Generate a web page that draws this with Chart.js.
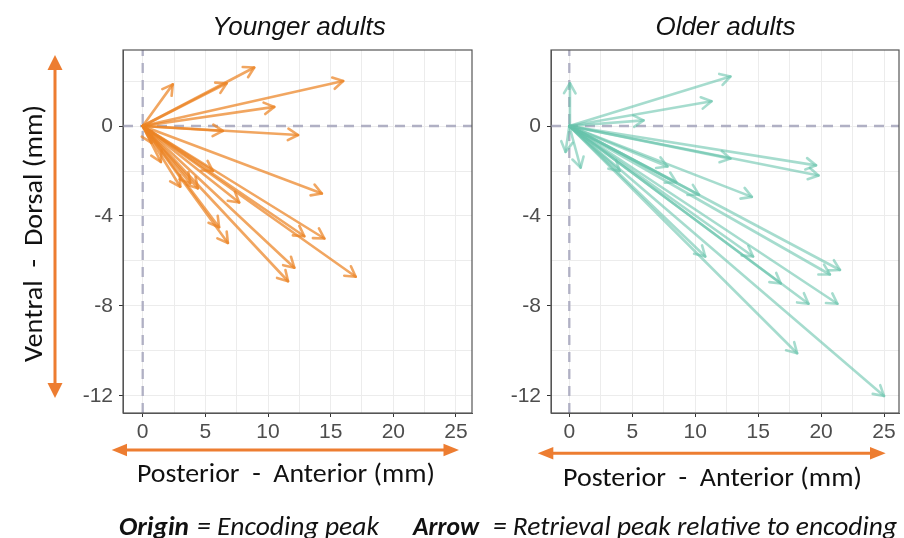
<!DOCTYPE html>
<html><head><meta charset="utf-8">
<script src="https://cdn.jsdelivr.net/npm/chart.js@4"></script>
<style>
html,body{margin:0;padding:0;background:#fff;}
#wrap{position:relative;width:904px;height:538px;overflow:hidden;background:#fff;}
canvas{position:absolute;}
svg{position:absolute;left:0;top:0;}
.cal{font-family:Carlito,Lato,'Open Sans',sans-serif;white-space:pre;fill:#111;}
.ttl{font-family:'Liberation Sans',Arial,sans-serif;font-style:italic;font-size:26px;fill:#111;}
</style></head><body>
<div id="wrap">
<canvas id="c1" width="412" height="400" style="left:62px;top:48px;width:412px;height:400px"></canvas>
<canvas id="c2" width="411" height="400" style="left:490px;top:48px;width:411px;height:400px"></canvas>
<svg width="904" height="538" viewBox="0 0 904 538">
  <text class="ttl" x="299" y="35" text-anchor="middle">Younger adults</text>
  <text class="ttl" x="725.5" y="35" text-anchor="middle">Older adults</text>
  <line x1="55" y1="69" x2="55" y2="384" stroke="#ED7D31" stroke-width="3"/>
  <polygon points="55,55 47.5,70 62.5,70" fill="#ED7D31"/>
  <polygon points="55,398 47.5,383 62.5,383" fill="#ED7D31"/>
  <line x1="126" y1="450" x2="444" y2="450" stroke="#ED7D31" stroke-width="3"/>
  <polygon points="111.7,450 127,443.8 127,456.2" fill="#ED7D31"/>
  <polygon points="459,450 443.5,443.8 443.5,456.2" fill="#ED7D31"/>
  <line x1="552" y1="453.3" x2="871" y2="453.3" stroke="#ED7D31" stroke-width="3"/>
  <polygon points="537.7,453.3 553.3,447.1 553.3,459.5" fill="#ED7D31"/>
  <polygon points="885.7,453.3 870,447.1 870,459.5" fill="#ED7D31"/>
  <text class="cal" x="137" y="481.5" font-size="26" textLength="298" lengthAdjust="spacingAndGlyphs">Posterior  -  Anterior (mm)</text>
  <text class="cal" x="563" y="486" font-size="26" textLength="299" lengthAdjust="spacingAndGlyphs">Posterior  -  Anterior (mm)</text>
  <text class="cal" transform="translate(41.5,362) rotate(-90)" x="0" y="0" font-size="26" textLength="257" lengthAdjust="spacingAndGlyphs">Ventral  -  Dorsal (mm)</text>
  <text class="cal" x="119" y="535" font-size="26" font-style="italic" font-weight="bold" textLength="70" lengthAdjust="spacingAndGlyphs">Origin</text>
  <text class="cal" x="197" y="535" font-size="26" font-style="italic" textLength="182" lengthAdjust="spacingAndGlyphs">= Encoding peak</text>
  <text class="cal" x="413" y="535" font-size="26" font-style="italic" font-weight="bold" textLength="66" lengthAdjust="spacingAndGlyphs">Arrow</text>
  <text class="cal" x="493" y="535" font-size="26" font-style="italic" textLength="404" lengthAdjust="spacingAndGlyphs">= Retrieval peak relative to encoding</text>
</svg>
</div>
<script>
// ---- data (mm, retrieval peak relative to encoding peak) ----
const youngX = [8.9, 2.4, 6.7, 16.0, 10.5, 6.4, 12.4, 14.3, 5.6, 4.4, 3.8, 1.45, 0.7, 3.0, 7.7, 6.1, 6.8, 12.9, 14.5, 12.1, 11.6, 17.0];
const youngY = [2.6, 1.85, 1.9, 2.0, 0.85, -0.22, -0.4, -3.0, -2.0, -2.77, -2.55, -1.6, -0.75, -2.7, -3.4, -4.5, -5.2, -4.9, -5.0, -6.3, -6.9, -6.7];
const oldX = [0.05, 12.8, 11.3, 5.9, -0.3, 0.9, 12.8, 19.6, 19.8, 8.5, 7.8, 10.3, 14.5, 4.0, 10.8, 14.6, 16.8, 21.5, 20.7, 19.0, 21.3, 18.1, 25.0];
const oldY = [1.9, 2.2, 1.1, 0.25, -1.15, -1.85, -1.45, -1.75, -2.2, -2.5, -1.8, -3.05, -3.15, -2.0, -5.8, -5.8, -7.0, -6.4, -6.6, -7.9, -7.9, -10.1, -12.0];
const xTicks = [0, 2.5, 5, 7.5, 10, 12.5, 15, 17.5, 20, 22.5, 25];
const yTicks = [-12, -10, -8, -6, -4, -2, 0, 2];

const refPlugin = {
  id: 'refLines',
  beforeDatasetsDraw(chart) {
    const {ctx, chartArea: a, scales: {x, y}} = chart;
    const x0 = x.getPixelForValue(0), y0 = y.getPixelForValue(0);
    ctx.save();
    ctx.beginPath(); ctx.rect(a.left, a.top, a.width, a.height); ctx.clip();
    ctx.strokeStyle = 'rgb(176,176,196)';
    ctx.lineWidth = 2.3;
    ctx.setLineDash([10, 7]);
    ctx.beginPath(); ctx.moveTo(x0, a.bottom); ctx.lineTo(x0, a.top); ctx.stroke();
    ctx.beginPath(); ctx.moveTo(a.left, y0); ctx.lineTo(a.right, y0); ctx.stroke();
    ctx.restore();
  },
  afterDatasetsDraw(chart) {
    const ctx = chart.ctx;
    chart.data.datasets.forEach((ds, i) => {
      const meta = chart.getDatasetMeta(i);
      const p0 = meta.data[0], p1 = meta.data[1];
      const ang = Math.atan2(p1.y - p0.y, p1.x - p0.x);
      const L = 11.5, A = Math.PI / 6;
      ctx.save();
      ctx.strokeStyle = ds.borderColor;
      ctx.lineWidth = ds.borderWidth;
      ctx.lineCap = 'round'; ctx.lineJoin = 'round';
      ctx.beginPath();
      ctx.moveTo(p1.x - L * Math.cos(ang - A), p1.y - L * Math.sin(ang - A));
      ctx.lineTo(p1.x, p1.y);
      ctx.lineTo(p1.x - L * Math.cos(ang + A), p1.y - L * Math.sin(ang + A));
      ctx.stroke();
      ctx.restore();
    });
  },
  afterDraw(chart) {
    const {ctx, chartArea: a} = chart;
    ctx.save();
    ctx.strokeStyle = '#555';
    ctx.lineWidth = 1.2;
    ctx.strokeRect(a.left, a.top, a.width, a.height);
    ctx.restore();
  }
};

function makeChart(id, xs, ys, color, xmin, xmax) {
  const datasets = xs.map((vx, i) => ({
    data: [{x: 0, y: 0}, {x: vx, y: ys[i]}],
    showLine: true,
    borderColor: color,
    borderWidth: 2.6,
    pointRadius: 0,
    borderCapStyle: 'round'
  }));
  const tickFont = {family: "'Liberation Sans', Arial, sans-serif", size: 21};
  return new Chart(document.getElementById(id), {
    type: 'scatter',
    data: {datasets},
    options: {
      responsive: false,
      animation: false,
      layout: {padding: {top: 2, right: 2, left: 0, bottom: 0}},
      plugins: {legend: {display: false}, tooltip: {enabled: false}, title: {display: false}},
      scales: {
        x: {
          type: 'linear', min: xmin, max: xmax,
          afterBuildTicks: s => { s.ticks = xTicks.map(v => ({value: v})); },
          afterFit: s => { s.height = 35; s.paddingLeft = 0; s.paddingRight = 0; },
          ticks: {
            callback: v => (v % 5 === 0 ? String(v) : ''),
            color: '#4d4d4d', font: tickFont, padding: 3, autoSkip: false, maxRotation: 0
          },
          grid: {
            color: '#ececec', lineWidth: 1, tickLength: 4,
            tickColor: c => (c.tick && c.tick.value % 5 === 0 ? '#333' : 'rgba(0,0,0,0)')
          },
          border: {display: true, color: '#555', width: 1}
        },
        y: {
          type: 'linear', min: -12.756, max: 3.378,
          afterBuildTicks: s => { s.ticks = yTicks.map(v => ({value: v})); },
          afterFit: s => { s.width = 61; s.paddingTop = 0; s.paddingBottom = 0; },
          ticks: {
            callback: v => (v % 4 === 0 ? String(v) : ''),
            color: '#4d4d4d', font: tickFont, padding: 6, autoSkip: false
          },
          grid: {
            color: '#ececec', lineWidth: 1, tickLength: 4,
            tickColor: c => (c.tick && c.tick.value % 4 === 0 ? '#333' : 'rgba(0,0,0,0)')
          },
          border: {display: true, color: '#555', width: 1}
        }
      }
    },
    plugins: [refPlugin]
  });
}

makeChart('c1', youngX, youngY, 'rgba(236,132,36,0.72)', -1.572, 26.28);
makeChart('c2', oldX, oldY, 'rgba(102,194,170,0.58)', -1.454, 26.19);
</script>
</body></html>
